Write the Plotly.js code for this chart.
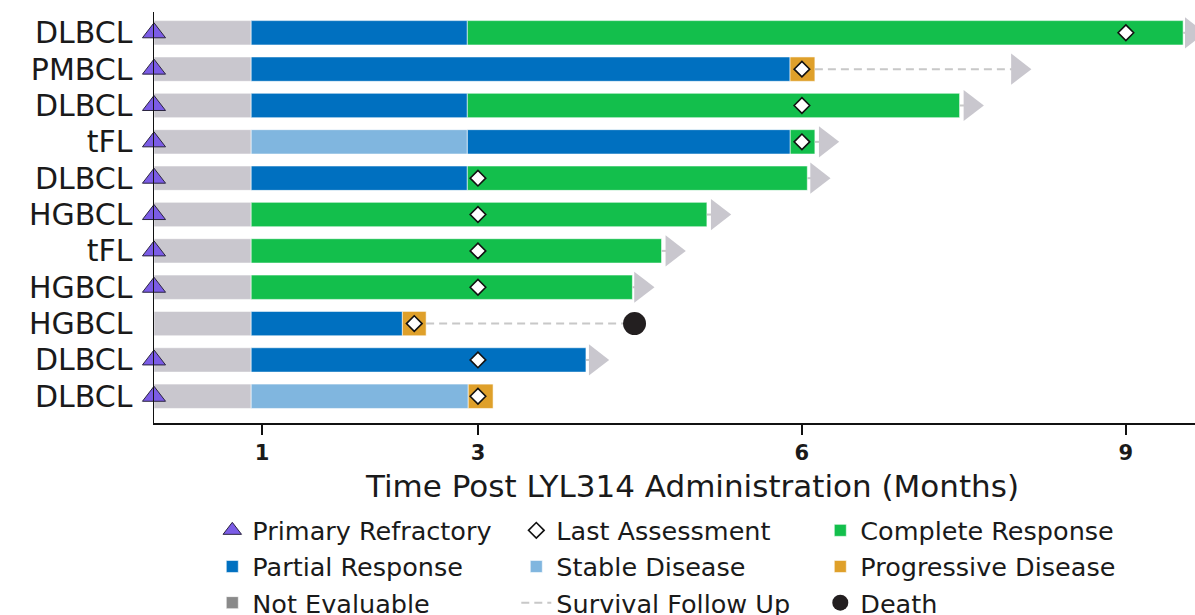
<!DOCTYPE html>
<html>
<head>
<meta charset="utf-8">
<script src="https://cdn.plot.ly/plotly-3.0.1.min.js"></script>
<style>
  html, body { margin: 0; padding: 0; background: #ffffff; }
  #chart { width: 1195px; height: 615px; }
</style>
</head>
<body>
<div id="chart"></div>
<script>
// Patients, listed top to bottom
const histology = ['DLBCL', 'PMBCL', 'DLBCL', 'tFL', 'DLBCL', 'HGBCL', 'tFL', 'HGBCL', 'HGBCL', 'DLBCL', 'DLBCL'];
const primaryRefractory = [true, true, true, true, true, true, true, true, false, true, true];

// Response course per patient: [start month, end month, status]
// PRE = interval before the first response assessment
const responseCourse = [
  [[0, 0.9, 'PRE'], [0.9, 2.9, 'PR'], [2.9, 9.53, 'CR']],
  [[0, 0.9, 'PRE'], [0.9, 5.89, 'PR'], [5.89, 6.12, 'PD']],
  [[0, 0.9, 'PRE'], [0.9, 2.9, 'PR'], [2.9, 7.46, 'CR']],
  [[0, 0.9, 'PRE'], [0.9, 2.9, 'SD'], [2.9, 5.89, 'PR'], [5.89, 6.12, 'CR']],
  [[0, 0.9, 'PRE'], [0.9, 2.9, 'PR'], [2.9, 6.05, 'CR']],
  [[0, 0.9, 'PRE'], [0.9, 5.12, 'CR']],
  [[0, 0.9, 'PRE'], [0.9, 4.70, 'CR']],
  [[0, 0.9, 'PRE'], [0.9, 4.43, 'CR']],
  [[0, 0.9, 'PRE'], [0.9, 2.30, 'PR'], [2.30, 2.52, 'PD']],
  [[0, 0.9, 'PRE'], [0.9, 4.00, 'PR']],
  [[0, 0.9, 'PRE'], [0.9, 2.91, 'SD'], [2.91, 3.14, 'PD']]
];

const lastAssessment = [9.0, 6.0, 6.0, 6.0, 3.0, 3.0, 3.0, 3.0, 2.41, 3.0, 3.0];
// Last survival follow-up (months); null = no follow-up beyond response course
const followUpEnd = [9.61, 8.0, 7.56, 6.22, 6.14, 5.22, 4.80, 4.51, 4.45, 4.09, null];
const ongoing = [true, true, true, true, true, true, true, true, false, true, false];
const deathMonth = [null, null, null, null, null, null, null, null, 4.45, null, null];

const xTickValues = [1, 3, 6, 9];
const xTitle = 'Time Post LYL314 Administration (Months)';

// Status order, legend names and colours
const statusKeys = ['PRE', 'CR', 'PR', 'SD', 'PD', 'NE'];
const statusNames = ['Before First Assessment', 'Complete Response', 'Partial Response', 'Stable Disease', 'Progressive Disease', 'Not Evaluable'];
const statusColors = ['#C9C7CE', '#13BF4C', '#0070C0', '#80B6DF', '#DFA02A', '#8A8A8A'];
const statusRank = [0, 3, 4, 5, 6, 7];

const FONT = '"DejaVu Sans", Lato, sans-serif';
const INK = '#1A1A1A';
const rows = histology.map((_, i) => i);

const traces = [];

// Response bars, one trace per status
statusKeys.forEach((key, k) => {
  const y = [], base = [], len = [];
  responseCourse.forEach((course, i) => {
    course.forEach(([s, e, st]) => {
      if (st === key) { y.push(i); base.push(s); len.push(e - s); }
    });
  });
  traces.push({
    type: 'bar', orientation: 'h',
    x: len.length ? len : [null], y: len.length ? y : [null], base: base.length ? base : [null],
    width: 0.67,
    name: statusNames[k],
    showlegend: key !== 'PRE',
    legendrank: statusRank[k],
    marker: { color: statusColors[k], line: { color: 'rgba(255,255,255,0.55)', width: 1 } },
    hoverinfo: 'skip'
  });
});

// Survival follow-up: dashed line from end of response course to last contact
const fuX = [], fuY = [];
responseCourse.forEach((course, i) => {
  if (followUpEnd[i] == null) return;
  const end = Math.max(...course.map(c => c[1]));
  fuX.push(end, followUpEnd[i], null);
  fuY.push(i, i, null);
});
traces.push({
  type: 'scatter', mode: 'lines', x: fuX, y: fuY,
  name: 'Survival Follow Up', legendrank: 8,
  line: { color: '#C8C8C8', width: 2, dash: '8px,5px' },
  hoverinfo: 'skip'
});

// Ongoing patients: arrow at last follow-up
traces.push({
  type: 'scatter', mode: 'markers',
  x: followUpEnd.filter((v, i) => ongoing[i]),
  y: rows.filter(i => ongoing[i]),
  showlegend: false,
  marker: { symbol: 'triangle-right', size: 27, color: '#C9C7CE' },
  cliponaxis: false, hoverinfo: 'skip'
});

// Primary refractory flags at time zero
traces.push({
  type: 'scatter', mode: 'markers',
  x: rows.filter(i => primaryRefractory[i]).map(() => 0),
  y: rows.filter(i => primaryRefractory[i]),
  name: 'Primary Refractory', legendrank: 1,
  marker: { symbol: 'triangle-up', size: 20, color: '#7B5CE6', line: { color: '#2B2540', width: 1 } },
  cliponaxis: false, hoverinfo: 'skip'
});

// Last response assessment
traces.push({
  type: 'scatter', mode: 'markers',
  x: lastAssessment, y: rows,
  name: 'Last Assessment', legendrank: 2,
  marker: { symbol: 'diamond', size: 12, color: '#FFFFFF', line: { color: '#111111', width: 1.6 } },
  hoverinfo: 'skip'
});

// Deaths
traces.push({
  type: 'scatter', mode: 'markers',
  x: deathMonth.filter(v => v != null),
  y: rows.filter(i => deathMonth[i] != null),
  name: 'Death', legendrank: 9,
  marker: { symbol: 'circle', size: 23, color: '#231F20' },
  hoverinfo: 'skip'
});

const layout = {
  width: 1195, height: 615,
  margin: { l: 154, r: 0, t: 12, b: 192, autoexpand: false },
  paper_bgcolor: '#FFFFFF', plot_bgcolor: '#FFFFFF',
  barmode: 'overlay',
  font: { family: FONT, color: INK },
  xaxis: {
    range: [0, 9.64],
    tickvals: xTickValues, ticktext: xTickValues.map(String),
    ticks: 'outside', ticklen: 10, tickwidth: 1.5, tickcolor: '#111111',
    showline: true, linecolor: '#111111', linewidth: 1.5,
    showgrid: false, zeroline: false,
    tickfont: { family: FONT, size: 21, weight: 'bold', color: INK }
  },
  yaxis: {
    range: [10.735, -0.572],
    tickvals: rows, ticktext: histology,
    ticks: '', ticklabelstandoff: 14,
    showline: true, linecolor: '#111111', linewidth: 1.5,
    showgrid: false, zeroline: false,
    tickfont: { family: FONT, size: 30, color: INK }
  },
  // Axis title, set slightly right of the plot centre
  annotations: [{
    text: xTitle, showarrow: false,
    xref: 'paper', yref: 'paper', x: 0.517, y: -0.153,
    xanchor: 'center', yanchor: 'middle',
    font: { family: FONT, size: 31, color: INK }
  }],
  legend: {
    orientation: 'h',
    x: 0.056, xanchor: 'left',
    y: -0.205, yanchor: 'top',
    entrywidth: 259, entrywidthmode: 'pixels',
    font: { family: FONT, size: 25.5, color: INK },
    bgcolor: 'rgba(0,0,0,0)', borderwidth: 0
  },
  showlegend: true
};

Plotly.newPlot('chart', traces, layout, { displayModeBar: false, staticPlot: true });
</script>
</body>
</html>
